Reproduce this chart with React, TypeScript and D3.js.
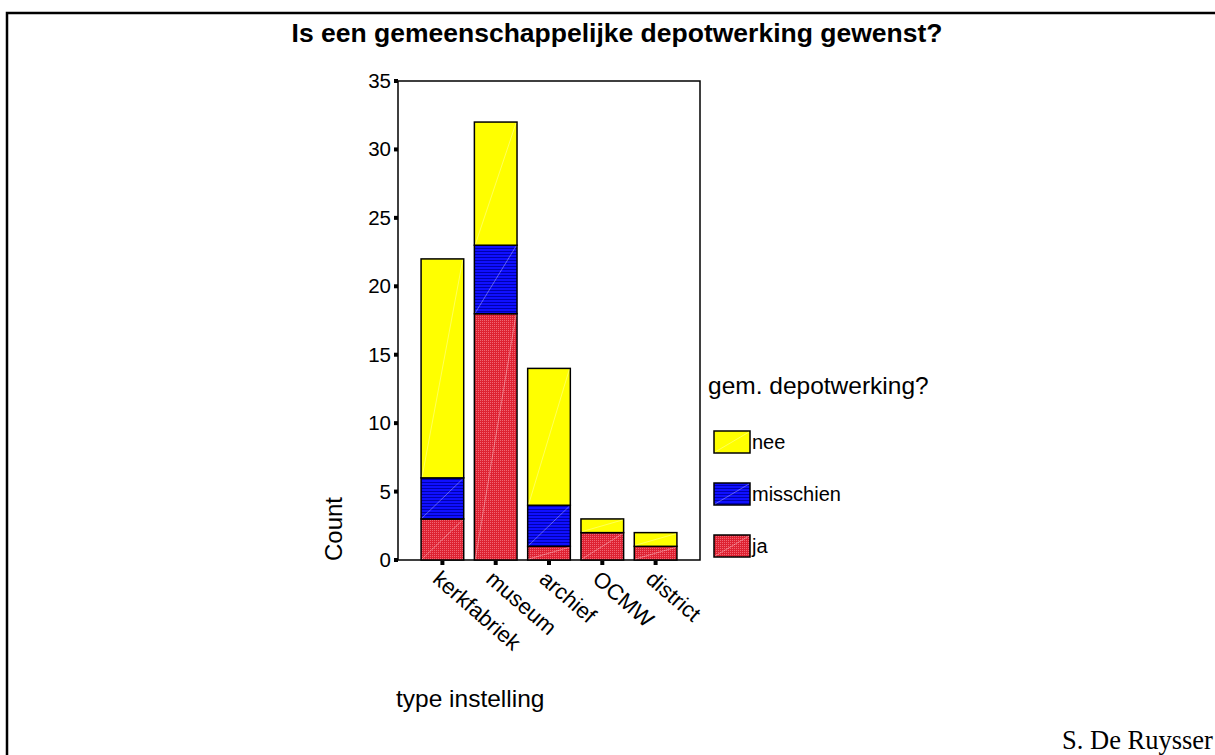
import React from "react";
import * as d3 from "d3";

const categories = ["kerkfabriek", "museum", "archief", "OCMW", "district"];
const ja = [3, 18, 1, 2, 1];
const misschien = [3, 5, 3, 0, 0];
const nee = [16, 9, 10, 1, 1];
const seriesKeys = ["ja", "misschien", "nee"];
const legendOrder = ["nee", "misschien", "ja"];
const yTicks = [0, 5, 10, 15, 20, 25, 30, 35];

const W = 1215;
const H = 755;
const plot = { left: 398, top: 81, right: 700, bottom: 560 };

const fills: Record<string, string> = {
  nee: "#FFFF00",
  misschien: "url(#patBlue)",
  ja: "url(#patRed)",
};

export default function App() {
  const rows = categories.map((c, i) => ({ cat: c, ja: ja[i], misschien: misschien[i], nee: nee[i] }));
  const stacked = d3.stack<any>().keys(seriesKeys)(rows);

  const x = d3
    .scaleBand<string>()
    .domain(categories)
    .range([plot.left, plot.right])
    .paddingInner(0.2)
    .paddingOuter(0.433);
  const y = d3.scaleLinear().domain([0, 35]).range([plot.bottom, plot.top]);

  const font = "'Liberation Sans', Arial, sans-serif";

  return (
    <svg width={W} height={H} style={{ position: "absolute", left: 0, top: 0, background: "#fff" }}>
      <defs>
        <pattern id="patBlue" width="4" height="3" patternUnits="userSpaceOnUse">
          <rect width="4" height="3" fill="#1010ff" />
          <rect y="2" width="4" height="1" fill="#0000b0" />
        </pattern>
        <pattern id="patRed" width="2" height="2" patternUnits="userSpaceOnUse">
          <rect width="2" height="2" fill="#de2232" />
          <rect width="1" height="1" fill="#f06674" />
        </pattern>
      </defs>
      <rect x={0} y={0} width={W} height={H} fill="#fff" />
      {/* outer border */}
      <rect x={7} y={13} width={W + 20} height={H + 20} fill="none" stroke="#000" strokeWidth={2.5} />

      <text x={617} y={42} textAnchor="middle" fontFamily={font} fontWeight="bold" fontSize={26.5} fill="#000">
        Is een gemeenschappelijke depotwerking gewenst?
      </text>

      {/* plot frame */}
      <rect
        x={plot.left}
        y={plot.top}
        width={plot.right - plot.left}
        height={plot.bottom - plot.top}
        fill="none"
        stroke="#000"
        strokeWidth={1.5}
      />

      {/* bars */}
      {stacked.map((s) =>
        s.map((d, i) => {
          const v = d[1] - d[0];
          if (v <= 0) return null;
          const bx = x(categories[i])!;
          const bw = x.bandwidth();
          const y0 = y(d[0]);
          const y1 = y(d[1]);
          return (
            <g key={s.key + i}>
              <rect x={bx} y={y1} width={bw} height={y0 - y1} fill={fills[s.key]} stroke="#000" strokeWidth={1.5} />
              <line x1={bx + 1} y1={y0 - 1} x2={bx + bw - 1} y2={y1 + 1} stroke="#ffffff" strokeOpacity={0.35} strokeWidth={1} />
            </g>
          );
        })
      )}

      {/* y axis ticks */}
      {yTicks.map((t) => (
        <g key={t}>
          <rect x={plot.left - 4} y={y(t) - 2} width={4} height={4} fill="#000" />
          <text x={plot.left - 7} y={y(t) + 7} textAnchor="end" fontFamily={font} fontSize={20.5} fill="#000">
            {t}
          </text>
        </g>
      ))}

      {/* x axis ticks and labels */}
      {categories.map((c) => {
        const cx = x(c)! + x.bandwidth() / 2;
        return (
          <g key={c}>
            <rect x={cx - 2} y={plot.bottom + 1} width={4} height={4} fill="#000" />
            <text
              transform={`translate(${cx - 11},${plot.bottom + 21}) rotate(41)`}
              fontFamily={font}
              fontSize={22}
              fill="#000"
            >
              {c}
            </text>
          </g>
        );
      })}

      <text
        transform={`translate(342,529) rotate(-90)`}
        textAnchor="middle"
        fontFamily={font}
        fontSize={24}
        fill="#000"
      >
        Count
      </text>

      <text x={396} y={707} fontFamily={font} fontSize={24.5} fill="#000">
        type instelling
      </text>

      {/* legend */}
      <text x={708} y={394} fontFamily={font} fontSize={24.5} fill="#000">
        gem. depotwerking?
      </text>
      {legendOrder.map((k, i) => {
        const ly = 431 + i * 52;
        return (
          <g key={k}>
            <rect x={714} y={ly} width={36} height={22} fill={fills[k]} stroke="#000" strokeWidth={1.5} />
            <line x1={715} y1={ly + 21} x2={749} y2={ly + 1} stroke="#fff" strokeOpacity={0.35} strokeWidth={1} />
            <text x={752} y={ly + 18} fontFamily={font} fontSize={20} fill="#000">
              {k}
            </text>
          </g>
        );
      })}

      <text x={1062} y={749} fontFamily="'Liberation Serif', 'Times New Roman', serif" fontSize={26.5} fill="#000">
        S. De Ruysser
      </text>
    </svg>
  );
}
